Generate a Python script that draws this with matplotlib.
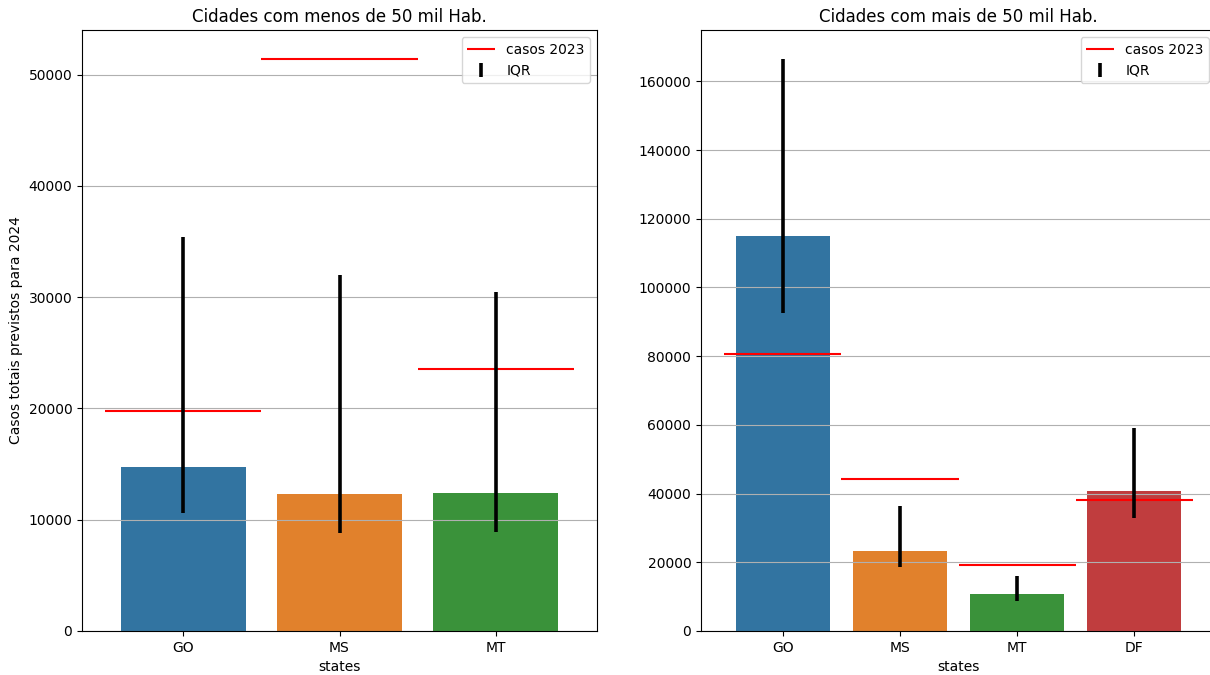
import matplotlib
matplotlib.use('Agg')

import matplotlib.pyplot as plt

# cidades com menos de 50 mil hab.
states_small = ['GO', 'MS', 'MT']
pred_small = [14720, 12270, 12360]
low_small = [10620, 8770, 8860]
high_small = [35430, 32020, 30430]
cases23_small = [19750, 51440, 23580]

# cidades com mais de 50 mil hab.
states_big = ['GO', 'MS', 'MT', 'DF']
pred_big = [115000, 23270, 10760, 40730]
low_big = [92700, 18620, 8630, 32780]
high_big = [166600, 36270, 15900, 58960]
cases23_big = [80500, 44310, 19100, 38200]

colors = ['#3274a1', '#e1812c', '#3a923a', '#c03d3e']


def draw(ax, states, pred, low, high, cases, title):
    x = list(range(len(states)))
    ax.bar(x, pred, width=0.8, color=colors[:len(states)])
    ax.hlines(cases, [i - 0.5 for i in x], [i + 0.5 for i in x],
              color='red', label='casos 2023')
    yerr = [[p - l for p, l in zip(pred, low)],
            [h - p for p, h in zip(pred, high)]]
    ax.errorbar(x, pred, yerr=yerr, fmt='none', ecolor='black',
                elinewidth=2.6, label='IQR')
    ax.set_xticks(x)
    ax.set_xticklabels(states)
    ax.set_xlabel('states')
    ax.set_title(title)
    ax.grid(axis='y')
    ax.legend(loc='upper right')


W, H = 1210, 675
fig = plt.figure(figsize=(W / 100, H / 100), dpi=100)
ax1 = fig.add_axes([82 / W, 44 / H, 515 / W, 601 / H])
ax2 = fig.add_axes([701 / W, 44 / H, 515 / W, 601 / H])

draw(ax1, states_small, pred_small, low_small, high_small, cases23_small,
     'Cidades com menos de 50 mil Hab.')
ax1.set_ylabel('Casos totais previstos para 2024')
draw(ax2, states_big, pred_big, low_big, high_big, cases23_big,
     'Cidades com mais de 50 mil Hab.')

fig.savefig('out.png', dpi=100)
